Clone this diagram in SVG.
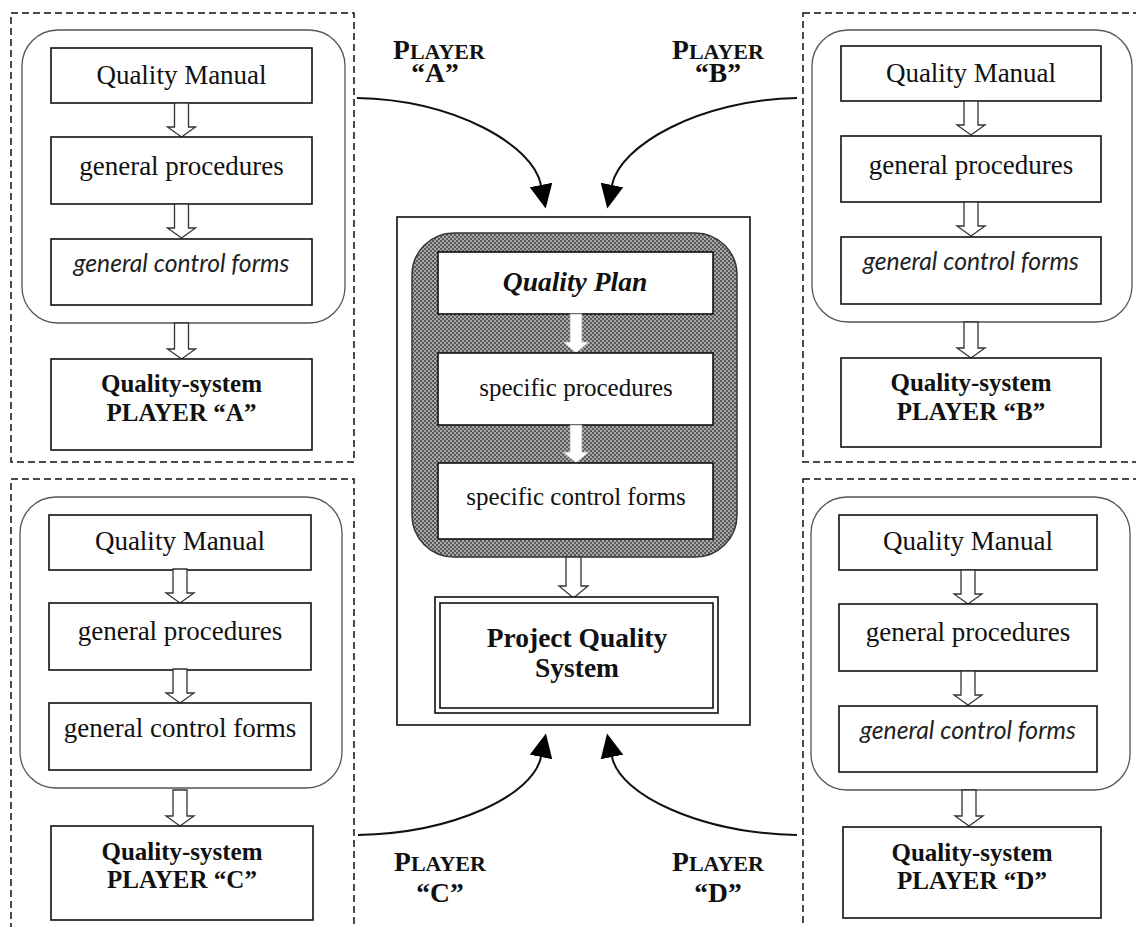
<svg xmlns="http://www.w3.org/2000/svg" width="1136" height="927" viewBox="0 0 1136 927">
  <style>
    .dash { fill: none; stroke: #111; stroke-width: 1.5; stroke-dasharray: 7 4; }
    .round { fill: none; stroke: #555; stroke-width: 1.3; }
    .box { fill: #fff; stroke: #111; stroke-width: 1.6; }
    .hollow { fill: #fff; stroke: #333; stroke-width: 1.3; }
    .white-arrow { fill: #fff; stroke: #aaa; stroke-width: 0.8; }
    .t { font-family: "Liberation Serif", "Times New Roman", serif; font-size: 27px; fill: #111; text-anchor: middle; }
    .c { font-size: 25px; }
    .b { font-weight: bold; }
    .qs { font-size: 25px; }
    .big { font-size: 27.5px; }
    .it { font-family: "Lato", "Open Sans", sans-serif; font-style: italic; font-size: 24.7px; fill: #222; text-anchor: middle; }
    .bi { font-weight: bold; font-style: italic; }
    .lab { font-size: 27.5px; }
    .sc { font-size: 22px; }
    .curve { fill: none; stroke: #111; stroke-width: 2; marker-end: url(#head); }
  </style>
  <defs>
    <marker id="head" markerUnits="userSpaceOnUse" markerWidth="26" markerHeight="26" viewBox="0 -13 26 26" refX="0" refY="0" orient="auto">
      <path d="M0,-11.5 L24,0 L0,11.5 z" fill="#000"/>
    </marker>
    <pattern id="checker" width="4" height="4" patternUnits="userSpaceOnUse">
      <rect width="4" height="4" fill="#a8a8a8"/>
      <rect width="2" height="2" fill="#5a5a5a"/>
      <rect x="2" y="2" width="2" height="2" fill="#5a5a5a"/>
    </pattern>
    <!-- hollow down arrow: shaft 14 wide, head 28 wide; origin at top centre -->
    <path id="down34" d="M-7,0 L7,0 L7,24 L14,24 L0,34 L-14,24 L-7,24 z"/>
    <path id="down36" d="M-7,0 L7,0 L7,26 L14,26 L0,36 L-14,26 L-7,26 z"/>
  </defs>

  <rect width="1136" height="927" fill="#fff"/>

  <!-- Player A -->
  <g id="player-a">
    <rect class="dash" x="11" y="13" width="343" height="449"/>
    <rect class="round" x="22" y="30" width="323" height="293" rx="36"/>
    <rect class="box" x="51" y="48" width="261" height="55"/>
    <text class="t" x="181.5" y="84">Quality Manual</text>
    <use href="#down34" class="hollow" x="181.5" y="103"/>
    <rect class="box" x="51" y="137" width="261" height="67"/>
    <text class="t" x="181.5" y="175">general procedures</text>
    <use href="#down34" class="hollow" x="181.5" y="204"/>
    <rect class="box" x="51" y="239" width="261" height="66"/>
    <text class="it" x="181.5" y="272">general control forms</text>
    <use href="#down36" class="hollow" x="181.5" y="323"/>
    <rect class="box" x="51" y="359" width="261" height="91"/>
    <text class="t b qs" x="181.5" y="392">Quality-system</text>
    <text class="t b qs" x="181.5" y="421">PLAYER “A”</text>
  </g>

  <!-- Player B -->
  <g id="player-b">
    <rect class="dash" x="803" y="13" width="345" height="449"/>
    <rect class="round" x="812" y="30" width="320" height="292" rx="36"/>
    <rect class="box" x="841" y="46" width="260" height="55"/>
    <text class="t" x="971" y="82">Quality Manual</text>
    <use href="#down34" class="hollow" x="971" y="101"/>
    <rect class="box" x="841" y="136" width="260" height="66"/>
    <text class="t" x="971" y="174">general procedures</text>
    <use href="#down34" class="hollow" x="971" y="202"/>
    <rect class="box" x="841" y="237" width="260" height="67"/>
    <text class="it" x="971" y="270">general control forms</text>
    <use href="#down36" class="hollow" x="971" y="322"/>
    <rect class="box" x="841" y="358" width="260" height="89"/>
    <text class="t b qs" x="971" y="391">Quality-system</text>
    <text class="t b qs" x="971" y="420">PLAYER “B”</text>
  </g>

  <!-- Player C -->
  <g id="player-c">
    <rect class="dash" x="11" y="479" width="343" height="460"/>
    <rect class="round" x="20" y="497" width="322" height="291" rx="36"/>
    <rect class="box" x="49" y="515" width="262" height="55"/>
    <text class="t" x="180" y="550">Quality Manual</text>
    <use href="#down34" class="hollow" x="180" y="569"/>
    <rect class="box" x="49" y="603" width="262" height="67"/>
    <text class="t" x="180" y="640">general procedures</text>
    <use href="#down34" class="hollow" x="180" y="669"/>
    <rect class="box" x="49" y="703" width="262" height="67"/>
    <text class="t" x="180" y="737">general control forms</text>
    <use href="#down36" class="hollow" x="180" y="790"/>
    <rect class="box" x="51" y="826" width="262" height="94"/>
    <text class="t b qs" x="182" y="860">Quality-system</text>
    <text class="t b qs" x="182" y="888">PLAYER “C”</text>
  </g>

  <!-- Player D -->
  <g id="player-d">
    <rect class="dash" x="803" y="479" width="345" height="460"/>
    <rect class="round" x="811" y="497" width="319" height="293" rx="36"/>
    <rect class="box" x="839" y="515" width="258" height="55"/>
    <text class="t" x="968" y="550">Quality Manual</text>
    <use href="#down34" class="hollow" x="968" y="570"/>
    <rect class="box" x="839" y="604" width="258" height="67"/>
    <text class="t" x="968" y="641">general procedures</text>
    <use href="#down34" class="hollow" x="968" y="671"/>
    <rect class="box" x="839" y="706" width="258" height="66"/>
    <text class="it" x="968" y="739">general control forms</text>
    <use href="#down36" class="hollow" x="969" y="790"/>
    <rect class="box" x="843" y="827" width="258" height="91"/>
    <text class="t b qs" x="972" y="861">Quality-system</text>
    <text class="t b qs" x="972" y="889">PLAYER “D”</text>
  </g>

  <!-- Project quality system (centre) -->
  <g id="project">
    <rect class="box" x="397" y="217" width="353" height="508"/>
    <rect x="412" y="233" width="325" height="324" rx="42" fill="url(#checker)" stroke="#333" stroke-width="1.5"/>
    <rect class="box" x="438" y="252" width="275" height="62"/>
    <text class="t b bi big" x="575" y="291">Quality Plan</text>
    <path class="white-arrow" d="M570,314 L582,314 L582,342 L589,342 L576,353 L563,342 L570,342 z"/>
    <rect class="box" x="438" y="353" width="275" height="72"/>
    <text class="t c" x="576" y="396">specific procedures</text>
    <path class="white-arrow" d="M570,425 L582,425 L582,452 L589,452 L576,463 L563,452 L570,452 z"/>
    <rect class="box" x="438" y="463" width="275" height="76"/>
    <text class="t c" x="576" y="505">specific control forms</text>
    <path class="hollow" d="M566,557 L581,557 L581,586 L588,586 L573.5,598 L559,586 L566,586 z"/>
    <rect class="box" x="435" y="597" width="283" height="116"/>
    <rect class="box" x="440" y="603" width="273" height="105"/>
    <text class="t b big" x="577" y="647">Project Quality</text>
    <text class="t b big" x="577" y="677">System</text>
  </g>

  <!-- Labels of the incoming players -->
  <g id="labels">
    <text class="t b lab" x="439" y="59">P<tspan class="sc">LAYER</tspan><tspan x="435" y="82">“A”</tspan></text>
    <text class="t b lab" x="718" y="59">P<tspan class="sc">LAYER</tspan><tspan x="718" y="82">“B”</tspan></text>
    <text class="t b lab" x="440" y="871">P<tspan class="sc">LAYER</tspan><tspan x="440" y="902">“C”</tspan></text>
    <text class="t b lab" x="718" y="871">P<tspan class="sc">LAYER</tspan><tspan x="718" y="902">“D”</tspan></text>
  </g>

  <!-- Curved connectors into the project system -->
  <g id="connectors">
    <path class="curve" d="M357,98 C455,100 533,145 541,185"/>
    <path class="curve" d="M797,98 C700,100 620,145 612,185"/>
    <path class="curve" d="M358,835 C455,833 533,795 541,757"/>
    <path class="curve" d="M797,835 C700,833 620,795 612,757"/>
  </g>
</svg>
